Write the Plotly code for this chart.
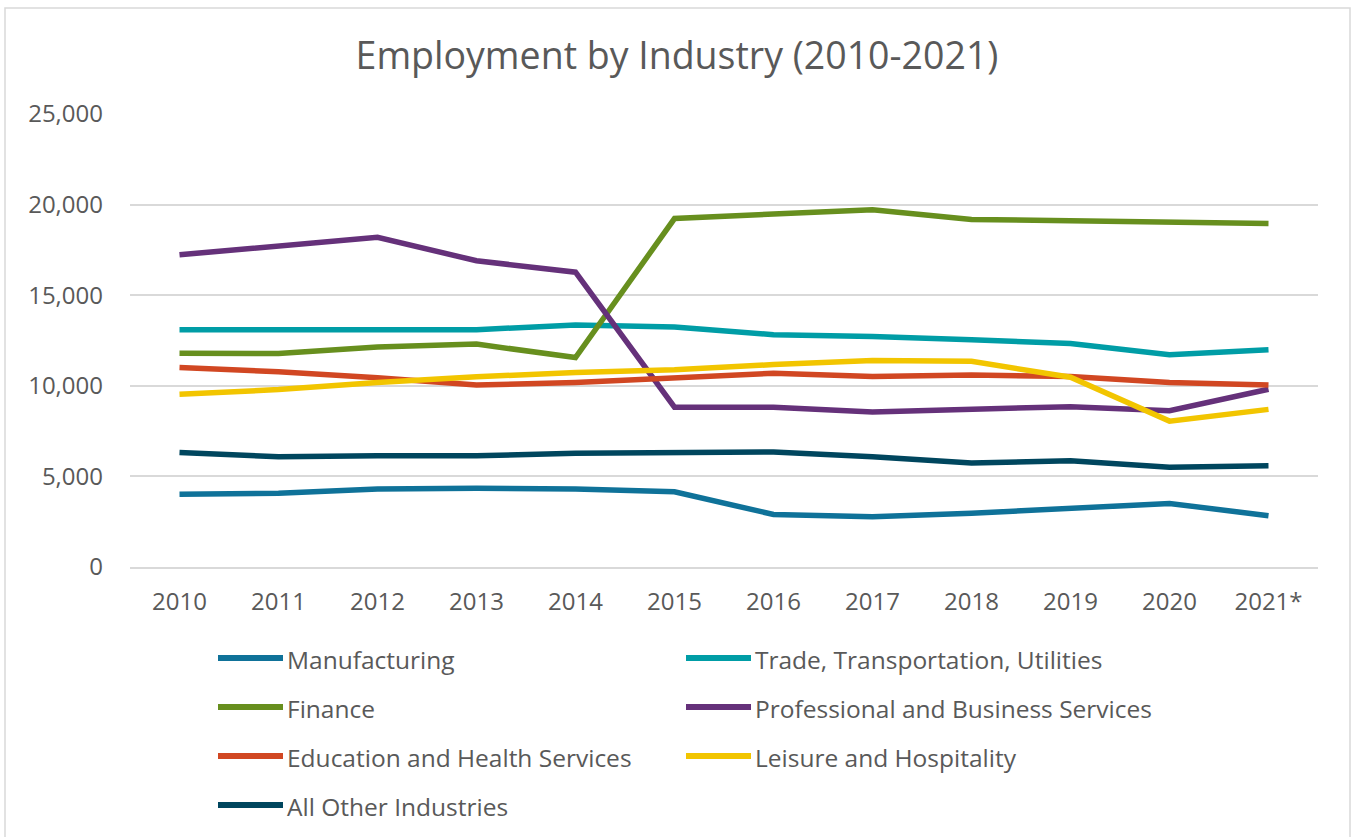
import plotly.graph_objects as go

# Years on the category axis (2021 is preliminary)
years = ["2010", "2011", "2012", "2013", "2014", "2015",
         "2016", "2017", "2018", "2019", "2020", "2021*"]

# Employment counts per industry
manufacturing = [4020, 4070, 4310, 4350, 4300, 4150, 2900, 2780, 2960, 3240, 3510, 2830]
trade_transport_util = [13100, 13100, 13060, 13100, 13350, 13250, 12820, 12720, 12540, 12340, 11710, 11990]
finance = [11800, 11780, 12140, 12300, 11560, 19230, 19480, 19720, 19180, 19100, 19040, 18960]
prof_business = [17230, 17680, 18200, 16900, 16270, 8820, 8820, 8560, 8700, 8850, 8620, 9810]
edu_health = [11010, 10780, 10450, 10040, 10180, 10400, 10690, 10510, 10600, 10510, 10180, 10050]
leisure_hospitality = [9530, 9790, 10180, 10500, 10730, 10880, 11170, 11390, 11350, 10470, 8050, 8700]
all_other = [6320, 6080, 6140, 6140, 6280, 6340, 6350, 6080, 5740, 5860, 5500, 5590]

series_names = [
    "Manufacturing",
    "Trade, Transportation, Utilities",
    "Finance",
    "Professional and Business Services",
    "Education and Health Services",
    "Leisure and Hospitality",
    "All Other Industries",
]
series_values = [manufacturing, trade_transport_util, finance, prof_business,
                 edu_health, leisure_hospitality, all_other]
series_colors = ["#0F7299", "#009DA6", "#678F1E", "#65317A",
                 "#D14722", "#F2C500", "#00465E"]

y_ticks = [0, 5000, 10000, 15000, 20000, 25000]

W, H = 1352, 837
ML, MR, MT, MB = 130, 34, 114, 270
PW, PH = W - ML - MR, H - MT - MB

def px_x(p):
    return (p - ML) / PW

def px_y(p):
    return (H - MB - p) / PH

FONT = "Open Sans"
TEXT = "#595959"

fig = go.Figure()
for name, vals, col in zip(series_names, series_values, series_colors):
    fig.add_trace(go.Scatter(
        x=years, y=vals, name=name, mode="lines",
        line=dict(color=col, width=5.5),
        showlegend=False,
    ))

shapes = []
annotations = []

# outer chart border
shapes.append(dict(type="rect", xref="paper", yref="paper",
                   x0=px_x(5), x1=px_x(1350), y0=px_y(900), y1=px_y(8),
                   line=dict(color="#D9D9D9", width=1.5), fillcolor="rgba(0,0,0,0)",
                   layer="below"))

# two-column legend under the plot
col_x = [218, 686]
row_y = [658, 707, 756, 805]
for i, (name, col) in enumerate(zip(series_names, series_colors)):
    cx = col_x[i % 2]
    cy = row_y[i // 2]
    shapes.append(dict(type="line", xref="paper", yref="paper",
                       x0=px_x(cx), x1=px_x(cx + 65), y0=px_y(cy), y1=px_y(cy),
                       line=dict(color=col, width=6)))
    annotations.append(dict(text=name, xref="paper", yref="paper",
                            x=px_x(cx + 67), y=px_y(cy + 1),
                            xanchor="left", yanchor="middle", showarrow=False,
                            font=dict(family=FONT, size=24.5, color=TEXT)))

fig.update_layout(
    width=W, height=H,
    margin=dict(l=ML, r=MR, t=MT, b=MB),
    paper_bgcolor="white", plot_bgcolor="white",
    title=dict(text="Employment by Industry (2010-2021)",
               x=(677) / W, xanchor="center",
               y=1 - 56 / H, yanchor="middle",
               font=dict(family=FONT, size=37.5, color=TEXT)),
    xaxis=dict(type="category", range=[-0.5, 11.5],
               showgrid=False, showline=True, linecolor="#D9D9D9", linewidth=1.5,
               ticks="", ticklabelstandoff=12,
               tickfont=dict(family=FONT, size=24, color=TEXT)),
    yaxis=dict(range=[0, 25000], tickvals=y_ticks, tickformat=",",
               showgrid=True, gridcolor="#D9D9D9", gridwidth=1.5,
               zeroline=False, showline=False, ticks="", ticklabelstandoff=26,
               tickfont=dict(family=FONT, size=24, color=TEXT)),
    shapes=shapes,
    annotations=annotations,
)

fig.write_html("out.html")
